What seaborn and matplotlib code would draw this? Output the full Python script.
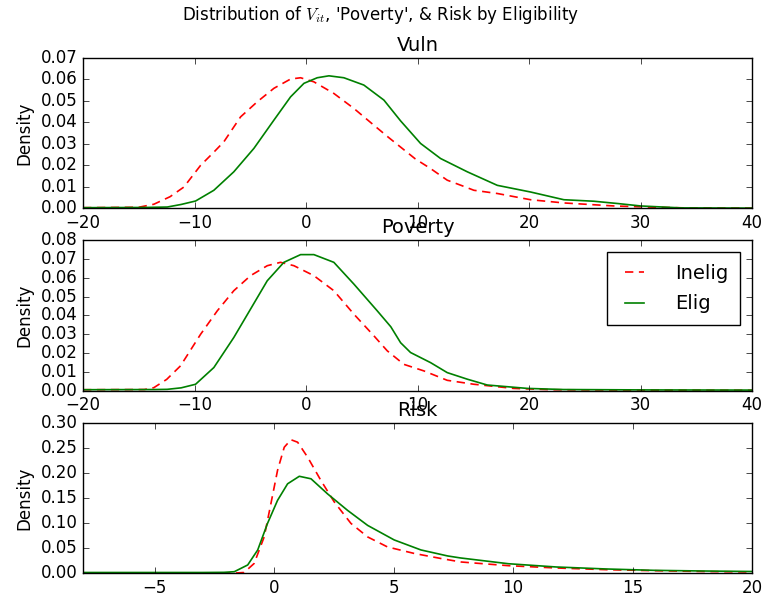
import numpy as np
import pandas as pd
import matplotlib
matplotlib.use("Agg")
import matplotlib.pyplot as plt
import seaborn as sns

plt.style.use("classic")

# ------------------------------------------------------------
# Curve values (KDE of each group)
# ------------------------------------------------------------
vuln_inelig_x = [-20, -15, -13.65, -12.2, -10.96, -9.46, -8.3, -7.37, -5.87, -4.38, -2.88,
                 -1.39, -0.49, 0.70, 2.49, 4.29, 6.08, 7.4, 8.48, 9.8, 11.17, 12.66, 14.0,
                 15.05, 17.15, 20.13, 23.12, 27.6, 30.6, 34, 40]
vuln_inelig_y = [0.0003, 0.0005, 0.0019, 0.0054, 0.0099, 0.020, 0.026, 0.031, 0.0426, 0.0496,
                 0.0559, 0.0602, 0.0608, 0.0589, 0.0535, 0.0465, 0.0387, 0.033, 0.0285, 0.023,
                 0.0185, 0.0131, 0.0105, 0.0084, 0.0069, 0.0040, 0.0025, 0.0011, 0.0006,
                 0.0002, 0.0001]

vuln_elig_x = [-20, -14.4, -12.45, -11.2, -9.91, -8.27, -6.48, -4.68, -2.88, -1.39, -0.19,
               1.00, 2.05, 3.39, 5.18, 6.98, 8.48, 10.27, 12.06, 14.46, 17.15, 20.13, 23.12,
               25.81, 28.0, 30.0, 33.6, 40]
vuln_elig_y = [0.0003, 0.0004, 0.0006, 0.0018, 0.0034, 0.0084, 0.0170, 0.0279, 0.0411,
               0.0519, 0.0582, 0.0608, 0.0617, 0.0608, 0.0574, 0.0504, 0.0407, 0.0302,
               0.0232, 0.0170, 0.0107, 0.0076, 0.0040, 0.0033, 0.0022, 0.0011, 0.0002,
               0.0001]

pov_inelig_x = [-20, -14.5, -13.65, -12.5, -11.26, -9.46, -7.96, -6.48, -4.98, -3.48, -2.29,
                -1.09, 0.70, 2.49, 4.29, 6.08, 7.28, 8.77, 10.57, 12.66, 15.05, 18.6, 22,
                30, 40]
pov_inelig_y = [0.0005, 0.0006, 0.0016, 0.006, 0.0132, 0.030, 0.0425, 0.0532, 0.0612,
                0.0665, 0.0683, 0.0665, 0.0612, 0.0532, 0.0407, 0.0292, 0.0212, 0.0140,
                0.0105, 0.0055, 0.0034, 0.0012, 0.0005, 0.0003, 0.0002]

pov_elig_x = [-20, -13.5, -12.45, -11.2, -9.91, -8.27, -6.48, -4.98, -3.48, -1.99, -0.49,
              0.70, 2.49, 4.29, 6.38, 7.6, 8.48, 9.37, 11.17, 12.66, 14.46, 16.25, 19.84,
              23.1, 30, 40]
pov_elig_y = [0.0005, 0.0006, 0.0007, 0.0015, 0.0034, 0.0123, 0.0283, 0.0434, 0.0585,
              0.0683, 0.0724, 0.0724, 0.0683, 0.0567, 0.0425, 0.034, 0.0255, 0.0203,
              0.0149, 0.0096, 0.0061, 0.0030, 0.0012, 0.0006, 0.0004, 0.0003]

risk_inelig_x = [-8, -1.6, -1.26, -0.84, -0.42, -0.14, 0.14, 0.42, 0.70, 0.98, 1.40, 1.95,
                 2.51, 3.21, 3.91, 4.74, 5.86, 6.97, 7.81, 9.8, 11.8, 13.9, 15.9, 17.9, 20]
risk_inelig_y = [0.0, 0.0, 0.001, 0.019, 0.072, 0.138, 0.205, 0.251, 0.266, 0.261, 0.231,
                 0.185, 0.142, 0.099, 0.072, 0.052, 0.039, 0.029, 0.022, 0.0146, 0.010,
                 0.0066, 0.0046, 0.003, 0.002]

risk_elig_x = [-8, -3, -2.1, -1.67, -1.11, -0.69, -0.28, 0.14, 0.56, 1.05, 1.54, 2.23, 3.07,
               3.91, 5.02, 6.14, 7.26, 7.8, 9.8, 11.8, 13.9, 15.9, 17.9, 20]
risk_elig_y = [0.001, 0.001, 0.0013, 0.0026, 0.016, 0.046, 0.099, 0.145, 0.178, 0.193,
               0.188, 0.158, 0.125, 0.095, 0.066, 0.046, 0.034, 0.030, 0.0185, 0.012,
               0.008, 0.0053, 0.004, 0.003]

panels = [
    ("Vuln", vuln_inelig_x, vuln_inelig_y, vuln_elig_x, vuln_elig_y, (-20, 40), (0, 0.07)),
    ("Poverty", pov_inelig_x, pov_inelig_y, pov_elig_x, pov_elig_y, (-20, 40), (0, 0.08)),
    ("Risk", risk_inelig_x, risk_inelig_y, risk_elig_x, risk_elig_y, (-8, 20), (0, 0.30)),
]

fig, axes = plt.subplots(3, 1, figsize=(7.62, 6.01), dpi=100)
fig.patch.set_facecolor("white")
plt.subplots_adjust(left=0.109, right=0.987, top=0.9035, bottom=0.0466, hspace=0.213)

for ax, (title, xi, yi, xe, ye, xlim, ylim) in zip(axes, panels):
    df_i = pd.DataFrame({"x": xi, "y": yi})
    df_e = pd.DataFrame({"x": xe, "y": ye})
    sns.lineplot(data=df_i, x="x", y="y", ax=ax, color="r", linestyle=(0, (6, 4)),
                 linewidth=1.2, label="Inelig", estimator=None)
    sns.lineplot(data=df_e, x="x", y="y", ax=ax, color="g", linewidth=1.2,
                 label="Elig", estimator=None)
    ax.set_xlim(*xlim)
    ax.set_ylim(*ylim)
    ax.set_title(title, fontsize=14)
    ax.set_xlabel("")
    ax.set_ylabel("Density", fontsize=12)
    ax.yaxis.set_major_formatter(matplotlib.ticker.FormatStrFormatter("%.2f"))
    ax.tick_params(labelsize=12)
    if title == "Poverty":
        ax.legend(loc="upper right", fontsize=14, handlelength=1.6, handletextpad=1.3,
                  borderpad=0.6, labelspacing=0.6, borderaxespad=0.6)
    else:
        ax.get_legend().remove()

fig.suptitle("Distribution of $V_{it}$, 'Poverty', & Risk by Eligibility", fontsize=12, y=0.993)

fig.savefig("out.png", dpi=100, facecolor="white")
